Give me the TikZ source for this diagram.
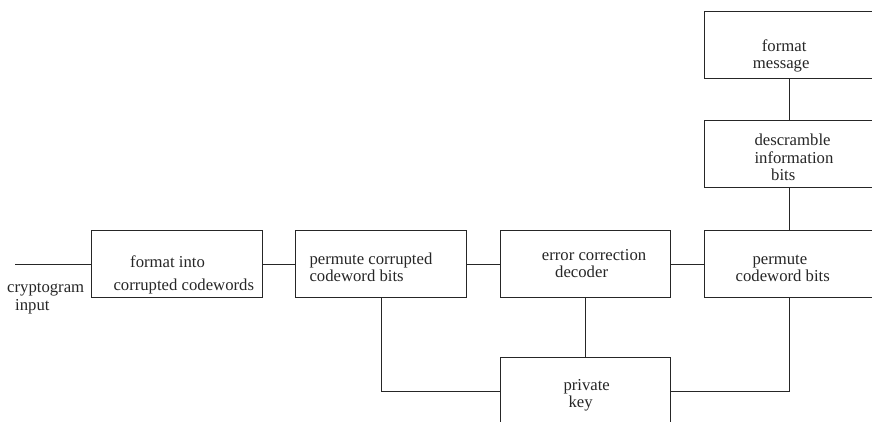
\documentclass[tikz,border=0pt]{standalone}
\usepackage{fontspec}
\setmainfont{Liberation Serif}
\begin{document}
\begin{tikzpicture}[x=1pt,y=-1pt,
  box/.style={draw=black!85, line width=0.9pt, minimum width=170.5pt, minimum height=67pt, inner sep=0pt},
  wire/.style={draw=black!85, line width=0.9pt},
  txt/.style={anchor=base west, inner sep=0pt, text=black!85, font=\fontsize{16.7}{18}\selectfont}]
\useasboundingbox (0,0) rectangle (872,422);

% processing blocks
\node[box] (fmt)  at (176.7,264.3) {};
\node[box] (pcc)  at (381.0,264.3) {};
\node[box] (ecd)  at (585.35,264.3) {};
\node[box] (pcb)  at (789.55,264.3) {};
\node[box] (dsc)  at (789.55,154.2) {};
\node[box] (fmsg) at (789.55,44.5) {};
\node[box] (key)  at (585.35,391.0) {};

% block labels, one node per printed line
\node[txt] (fmtA)  at (130.0,267.7) {format into};
\node[txt] (fmtB)  at (113.3,290.7) {corrupted codewords};
\node[txt] (pccA)  at (309.3,264.8) {permute corrupted};
\node[txt] (pccB)  at (309.3,281.6) {codeword bits};
\node[txt] (ecdA)  at (541.7,260.2) {error correction};
\node[txt] (ecdB)  at (555.0,277.3) {decoder};
\node[txt] (pcbA)  at (752.3,264.3) {permute};
\node[txt] (pcbB)  at (735.5,281.7) {codeword bits};
\node[txt] (dscA)  at (754.3,146.0) {descramble};
\node[txt] (dscB)  at (754.3,164.0) {information};
\node[txt] (dscC)  at (771.0,181.0) {bits};
\node[txt] (fmsgA) at (761.7,51.7) {format};
\node[txt] (fmsgB) at (752.7,68.5) {message};
\node[txt] (keyA)  at (563.3,390.5) {private};
\node[txt] (keyB)  at (568.3,407.0) {key};
\node[txt] (inA)   at (7.0,292.5) {cryptogram};
\node[txt] (inB)   at (15.0,310.5) {input};

% input lead
\coordinate (src) at (15,264.3);
\draw[wire] (src) -- (fmt.west);

% main chain
\draw[wire] (fmt.east) -- (pcc.west);
\draw[wire] (pcc.east) -- (ecd.west);
\draw[wire] (ecd.east) -- (pcb.west);
\draw[wire] (pcb.north) -- (dsc.south);
\draw[wire] (dsc.north) -- (fmsg.south);

% key distribution
\draw[wire] (ecd.south) -- (key.north);
\draw[wire] (pcc.south) |- (key.west);
\draw[wire] (pcb.south) |- (key.east);
\end{tikzpicture}
\end{document}
